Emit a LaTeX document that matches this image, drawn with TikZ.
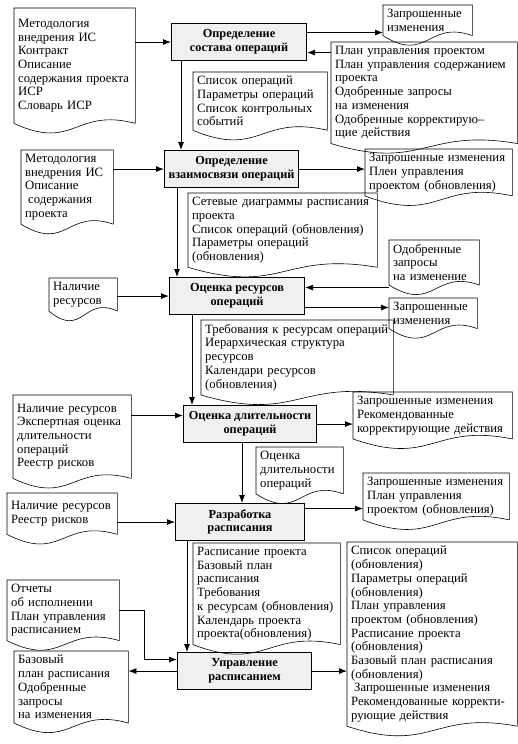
\documentclass[tikz,border=0pt]{standalone}
\usepackage{fontspec}
\setmainfont{Liberation Serif}
\usetikzlibrary{calc}
\usetikzlibrary{arrows.meta}

\newcommand{\docfont}{\fontsize{12.7}{13.7}\selectfont}
\newcommand{\procfont}{\fontsize{12.3}{13.7}\selectfont\bfseries}

\begin{document}
\begin{tikzpicture}[x=1pt, y=-1pt, >={Latex[length=8pt,width=6pt]},
  doc/.style={anchor=north west, inner sep=4pt, align=left, font=\docfont},
  proc/.style={anchor=north west, draw, line width=1.1pt, fill=gray!12, align=center,
    minimum height=37pt, inner sep=0pt, font=\procfont},
  docline/.style={line width=.6pt},
  flow/.style={line width=.8pt}]
\useasboundingbox (0,0) rectangle (518,744);

% processes
\node[proc, minimum width=135pt] (b1) at (171,23)  {Определение\\состава операций};
\node[proc, minimum width=134pt] (b2) at (164,150) {Определение\\взаимосвязи операций};
\node[proc, minimum width=135pt] (b3) at (169,277) {Оценка ресурсов\\операций};
\node[proc, minimum width=133pt] (b4) at (183,405) {Оценка длительности\\операций};
\node[proc, minimum width=129pt] (b5) at (175,503) {Разработка\\расписания};
\node[proc, minimum width=134pt] (b6) at (177,652) {Управление\\расписанием};

% documents
\node[doc, text width=113pt, minimum height=115pt] (l1) at (14,8)
  {Методология\\внедрения ИС\\Контракт\\Описание\\содержания проекта\\ИСР\\Словарь ИСР};
\node[doc, text width=81pt] (r1) at (383,5) {Запрошенные\\изменения};
\node[doc, text width=178pt] (r2) at (331,42)
  {План управления проектом\\План управления содержанием\\проекта\\Одобренные запросы\\на изменения\\Одобренные корректирую--\\щие действия};
\node[doc, text width=126pt] (o1) at (193,72)
  {Список операций\\Параметры операций\\Список контрольных\\событий};
\node[doc, text width=84pt] (l2) at (21,150)
  {Методология\\внедрения ИС\\Описание\\\hspace{3pt}содержания\\проекта};
\node[doc, text width=139pt] (r3) at (365,149)
  {Запрошенные изменения\\Плен управления\\проектом (обновления)};
\node[doc, text width=181pt] (o2) at (188,193)
  {Сетевые диаграммы расписания\\проекта\\Список операций (обновления)\\Параметры операций\\(обновления)};
\node[doc, text width=82pt] (r4) at (389,240) {Одобренные\\запросы\\на изменение};
\node[doc, text width=60pt] (l3) at (49,278) {Наличие\\ресурсов};
\node[doc, text width=80pt] (r5) at (389,298) {Запрошенные\\изменения};
\node[doc, text width=184pt] (o3) at (201,320)
  {Требования к ресурсам операций\\Иерархическая структура\\ресурсов\\Календари ресурсов\\(обновления)};
\node[doc, text width=110pt, minimum height=83pt] (l4) at (13,395)
  {Наличие ресурсов\\Экспертная оценка\\длительности\\операций\\Реестр рисков};
\node[doc, text width=151pt] (r6) at (353,392)
  {Запрошенные изменения\\Рекомендованные\\корректирующие действия};
\node[doc, text width=79pt] (o4) at (256,447) {Оценка\\длительности\\операций};
\node[doc, text width=102pt, minimum height=41pt] (l5) at (7,493) {Наличие ресурсов\\Реестр рисков};
\node[doc, text width=138pt] (r7) at (363,473)
  {Запрошенные изменения\\План управления\\проектом (обновления)};
\node[doc, text width=139pt] (o5) at (193,543)
  {Расписание проекта\\Базовый план\\расписания\\Требования\\к ресурсам (обновления)\\Календарь проекта\\проекта(обновления)};
\node[doc, text width=104pt] (l6) at (7,580)
  {Отчеты\\об исполнении\\План управления\\расписанием};
\node[doc, text width=106pt] (l7) at (14,651)
  {Базовый\\план расписания\\Одобренные\\запросы\\на изменения};
\node[doc, text width=162pt] (r8) at (347,542)
  {Список операций\\(обновления)\\Параметры операций\\(обновления)\\План управления\\проектом (обновления)\\Расписание проекта\\(обновления)\\Базовый план расписания\\(обновления)\\\hspace{3pt}Запрошенные изменения\\Рекомендованные корректи-\\рующие действия};

\foreach \n in {l1,l2,l3,l4,l5,l6,l7,r1,r2,r3,r4,r5,r6,r7,r8,o1,o2,o3,o4,o5}
 \draw[docline] (\n.south east) -- (\n.north east) -- (\n.north west) -- (\n.south west)
   .. controls ($(\n.south west)!0.5!(\n.south east)+(0,-28pt)$)
   and ($(\n.south west)!0.5!(\n.south east)+(0,16pt)$) .. (\n.south east);

% attachment points
\coordinate (a1) at ([yshift=9.5pt]b1.east);
\coordinate (a2) at ([yshift=-10.5pt]b1.east);
\coordinate (a3) at ([xshift=10pt]b1.south west);
\coordinate (a4) at ([xshift=13pt]b2.south west);
\coordinate (a5) at ([yshift=8.5pt]b3.east);
\coordinate (a6) at ([yshift=-11.5pt]b3.east);
\coordinate (a7) at ([xshift=23pt]b3.south west);
\coordinate (a8) at ([yshift=8.5pt]b4.west);
\coordinate (a9) at ([xshift=59pt]b4.south west);
\coordinate (a10) at ([yshift=13.5pt]b5.east);
\coordinate (a11) at ([xshift=12pt]b5.south west);
\coordinate (a12) at ([yshift=11.5pt]b6.west);

\draw[flow, ->] (l1.east |- b1.west) -- (b1.west);
\draw[flow, ->] (a1) -- (a1 -| r1.west);
\draw[flow, <-] (a2) -- (a2 -| r2.west);
\draw[flow, ->] (a3) -- (a3 |- b2.north);
\draw[flow, ->] (l2.east |- b2.west) -- (b2.west);
\draw[flow, ->] (b2.east) -- (b2.east -| r3.west);
\draw[flow, ->] (a4) -- (a4 |- b3.north);
\draw[flow, ->] (l3.east |- b3.west) -- (b3.west);
\draw[flow, <-] (a5) -- (a5 -| r4.west);
\draw[flow, ->] (a6) -- (a6 -| r5.west);
\draw[flow, ->] (a7) -- (a7 |- b4.north);
\draw[flow, ->] (l4.east |- a8) -- (a8);
\draw[flow, ->] (b4.east) -- (b4.east -| r6.west);
\draw[flow, ->] (a9) -- (a9 |- b5.north);
\draw[flow, ->] (l5.east |- b5.west) -- (b5.west);
\draw[flow, ->] (a10) -- (a10 -| r7.west);
\draw[flow, ->] (a11) -- (a11 |- b6.north);
\draw[flow, ->] (l6.east) -- ++(25,0) |- (a12);
\draw[flow, ->] (b6.west) -- (b6.west -| l7.east);
\draw[flow, ->] (b6.east) -- (b6.east -| r8.west);
\end{tikzpicture}
\end{document}
